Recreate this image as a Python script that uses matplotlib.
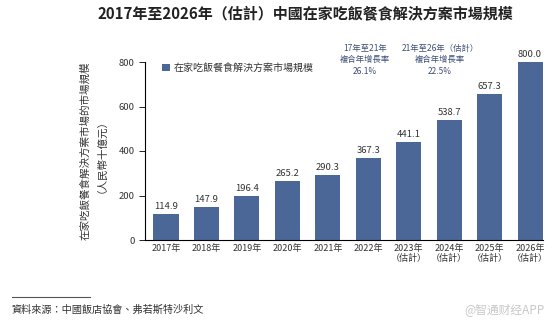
import matplotlib
matplotlib.use("Agg")
import matplotlib.pyplot as plt
import numpy as np

plt.rcParams['font.family'] = ['Noto Sans CJK TC', 'DejaVu Sans']

# --- Data ---
years = ["2017年", "2018年", "2019年", "2020年", "2021年", "2022年",
         "2023年\n（估計）", "2024年\n（估計）", "2025年\n（估計）", "2026年\n（估計）"]
values = [114.9, 147.9, 196.4, 265.2, 290.3, 367.3, 441.1, 538.7, 657.3, 800.0]
series_name = "在家吃飯餐食解決方案市場規模"
cagr_notes = ["17年至21年\n複合年增長率\n26.1%", "21年至26年（估計）\n複合年增長率\n22.5%"]

BAR = '#4a6798'
TXT = '#333333'

fig = plt.figure(figsize=(5.54, 3.26), dpi=100)
ax = fig.add_axes([145 / 554, 1 - 240 / 326, 398 / 554, 178 / 326])

x = np.arange(len(values))
ax.bar(x, values, width=0.62, color=BAR, label=series_name)
for xi, v in zip(x, values):
    ax.text(xi, v + 14, f"{v:.1f}", ha='center', va='bottom', fontsize=6.8, color=TXT)

ax.set_xlim(-0.52, 9.32)
ax.set_ylim(0, 800)
ax.set_yticks([0, 200, 400, 600, 800])
ax.set_xticks(x)
ax.set_xticklabels(years, fontsize=6.5, color=TXT, linespacing=1.1)
ax.tick_params(axis='y', labelsize=6.8, labelcolor=TXT, length=4, width=0.6)
ax.tick_params(axis='x', length=0, pad=3)
for s in ['top', 'right']:
    ax.spines[s].set_visible(False)
ax.spines['left'].set_linewidth(0.8)
ax.spines['bottom'].set_linewidth(0.8)

ax.set_ylabel("在家吃飯餐食解決方案市場的市場規模\n（人民幣十億元）", fontsize=7.6, color=TXT,
              linespacing=1.15, labelpad=12)

ax.legend(loc='upper left', bbox_to_anchor=(0.02, 1.045), frameon=False, fontsize=7.2,
          handlelength=0.8, handleheight=0.8, handletextpad=0.4, labelcolor=TXT)

# CAGR annotations
fig.text(365 / 554, 1 - 44 / 326, cagr_notes[0], ha='center', va='top', fontsize=6,
         style='italic', color='#3d4f75', linespacing=1.35)
fig.text(440 / 554, 1 - 44 / 326, cagr_notes[1], ha='center', va='top', fontsize=6,
         style='italic', color='#3d4f75', linespacing=1.35)

# Title
fig.text(305 / 554, 1 - 14 / 326, "2017年至2026年（估計）中國在家吃飯餐食解決方案市場規模",
         ha='center', va='center', fontsize=10.8, fontweight='bold', color='#222222')

# Footer
fig.add_artist(plt.Line2D([12 / 554, 90 / 554], [1 - 297 / 326, 1 - 297 / 326],
                          color='#555555', linewidth=0.8))
fig.text(12 / 554, 1 - 310 / 326, "資料來源：中國飯店協會、弗若斯特沙利文", ha='left', va='center',
         fontsize=7.3, style='italic', color=TXT)
fig.text(545 / 554, 1 - 310 / 326, "@智通财经APP", ha='right', va='center',
         fontsize=8.5, color='#c8c8c8', family=['Noto Sans CJK SC', 'DejaVu Sans'])

fig.savefig("out.png", dpi=100, facecolor='white')
